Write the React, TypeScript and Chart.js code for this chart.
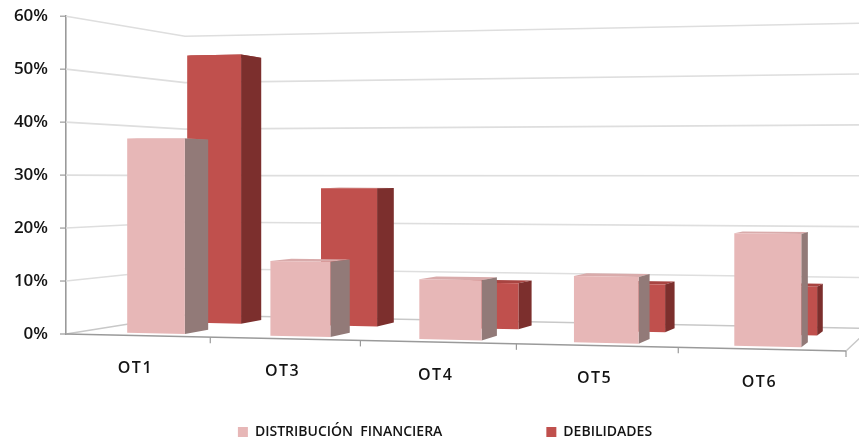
import React, { useEffect, useRef } from "react";
import { Chart, registerables } from "chart.js";

Chart.register(...registerables);

const categories = ["OT1", "OT3", "OT4", "OT5", "OT6"];
const distribucionFinanciera = [37, 14, 11, 12, 20];
const debilidades = [54.5, 27.5, 9, 9.2, 9.2];
const seriesNames = ["DISTRIBUCIÓN  FINANCIERA", "DEBILIDADES"];
const yMax = 60;
const yStep = 10;

const FONT = "'Open Sans', sans-serif";
const PINK = { front: "#E7B7B7", side: "#927A78", top: "#D9ABAB" };
const RED = { front: "#C0504D", side: "#7C2F2D", top: "#A84441" };
const GRID = "#DEDEDE";
const AXIS = "#9A9A9A";

// View of the 3D box: how the flat plot area maps on to the tilted scene.
const VIEW = {
  rightBottomDrop: 17,
  rightTopRise: 12,
  backLeft: { dx: 119, bottom: -19, top: 20 },
  backRight: { dx: 24, bottom: -22.5, top: 18.8 },
  warp: 0.094,
};
const ROWS = [
  { d0: 0.12, d1: 0.34, c: PINK },
  { d0: 0.65, d1: 0.84, c: RED },
];
const barShift = (u: number) => 0.008 - 0.006 * u;

const lerp = (a: number, b: number, t: number) => a + (b - a) * t;

function projector(chart: any) {
  const { left, right } = chart.chartArea;
  const y = chart.scales.y;
  const b = y.getPixelForValue(0);
  const t = y.getPixelForValue(yMax);
  return (u: number, d: number, v: number) => {
    const s = u - VIEW.warp * u * (1 - u);
    const xf = lerp(left, right, s);
    const xb = lerp(left + VIEW.backLeft.dx, right + VIEW.backRight.dx, s);
    const bf = b + VIEW.rightBottomDrop * s;
    const tf = t - VIEW.rightTopRise * s;
    const bb = lerp(b + VIEW.backLeft.bottom, b + VIEW.rightBottomDrop + VIEW.backRight.bottom, s);
    const tb = lerp(t + VIEW.backLeft.top, t - VIEW.rightTopRise + VIEW.backRight.top, s);
    const yb = lerp(bf, bb, d);
    const yt = lerp(tf, tb, d);
    return [lerp(xf, xb, d), lerp(yb, yt, v)] as [number, number];
  };
}

function poly(ctx: CanvasRenderingContext2D, pts: [number, number][], fill: string) {
  ctx.beginPath();
  pts.forEach((p, i) => (i ? ctx.lineTo(p[0], p[1]) : ctx.moveTo(p[0], p[1])));
  ctx.closePath();
  ctx.fillStyle = fill;
  ctx.fill();
}

function line(ctx: CanvasRenderingContext2D, pts: [number, number][], color: string, w: number) {
  ctx.beginPath();
  pts.forEach((p, i) => (i ? ctx.lineTo(p[0], p[1]) : ctx.moveTo(p[0], p[1])));
  ctx.strokeStyle = color;
  ctx.lineWidth = w;
  ctx.stroke();
}

const scene3d = {
  id: "scene3d",
  beforeInit(chart: any) {
    const legend = chart.legend;
    if (legend) {
      const fit = legend.fit;
      legend.fit = function () {
        fit.call(this);
        this.height = 34;
      };
    }
  },
  afterLayout(chart: any) {
    const legend = chart.legend;
    legend.left += 22;
    legend.right += 22;
    legend.top = 425 - legend.options.labels.padding;
    legend.bottom = 441;
  },
  beforeDatasetsDraw(chart: any) {
    const ctx = chart.ctx as CanvasRenderingContext2D;
    const { left, width } = chart.chartArea;
    const P = projector(chart);
    const y = chart.scales.y;
    const x = chart.scales.x;
    const b = y.getPixelForValue(0);
    const t = y.getPixelForValue(yMax);
    ctx.save();

    // y axis tick marks
    for (let v = 0; v <= yMax; v += yStep) {
      const py = y.getPixelForValue(v);
      line(ctx, [[left - 6, py], [left, py]], AXIS, 1.2);
    }

    // walls
    for (let v = yStep; v <= yMax; v += yStep) {
      const f = (b - y.getPixelForValue(v)) / (b - t);
      line(ctx, [P(0, 0, f), P(0, 1, f), P(1, 1, f)], GRID, 1.6);
    }
    // floor
    line(ctx, [P(0, 0, 0), P(0, 1, 0), P(1, 1, 0), P(1, 0, 0)], "#C8C8C8", 1.4);
    line(ctx, [P(0, 0, 0), P(1, 0, 0)], AXIS, 1.6);

    // x axis ticks and labels
    const slot = width / categories.length;
    categories.forEach((_, i) => {
      const u = (x.getPixelForValue(i) + slot / 2 - left) / width;
      const p = P(u, 0, 0);
      line(ctx, [p, [p[0], p[1] + 6]], AXIS, 1.2);
    });
    ctx.fillStyle = "#141414";
    ctx.font = `600 16px ${FONT}`;
    ctx.textAlign = "center";
    ctx.textBaseline = "middle";
    ctx.letterSpacing = "1.5px";
    categories.forEach((_, i) => {
      const u = (x.getPixelForValue(i) - left) / width;
      const p = P(u, 0, 0);
      ctx.fillText(x.getLabelForValue(i), p[0] - 2, p[1] + 33);
    });
    ctx.letterSpacing = "0px";

    // bars, back row first
    for (let ds = 1; ds >= 0; ds--) {
      const row = ROWS[ds];
      chart.getDatasetMeta(ds).data.forEach((el: any) => {
        const uc = (el.x - left) / width;
        const u0 = (el.x - el.width / 2 - left) / width + barShift(uc);
        const u1 = (el.x + el.width / 2 - left) / width + barShift(uc);
        const vt = (b - el.y) / (b - t);
        const { d0, d1, c } = row;
        poly(ctx, [P(u0, d0, vt), P(u1, d0, vt), P(u1, d1, vt), P(u0, d1, vt)], c.top);
        poly(ctx, [P(u1, d0, 0), P(u1, d1, 0), P(u1, d1, vt), P(u1, d0, vt)], c.side);
        poly(ctx, [P(u0, d0, 0), P(u1, d0, 0), P(u1, d0, vt), P(u0, d0, vt)], c.front);
      });
    }
    ctx.restore();
    return false;
  },
};

export default function App() {
  const ref = useRef<HTMLCanvasElement>(null);
  useEffect(() => {
    const chart = new Chart(ref.current!, {
      type: "bar",
      data: {
        labels: categories,
        datasets: [
          { label: seriesNames[0], data: distribucionFinanciera, backgroundColor: PINK.front, grouped: false, barPercentage: 0.405, categoryPercentage: 1 },
          { label: seriesNames[1], data: debilidades, backgroundColor: RED.front, grouped: false, barPercentage: 0.405, categoryPercentage: 1 },
        ],
      },
      plugins: [scene3d],
      options: {
        responsive: false,
        animation: false,
        events: [],
        layout: { padding: { top: 0, right: 13, left: 0, bottom: 73 } },
        scales: {
          x: { display: false },
          y: {
            min: 0,
            max: yMax,
            ticks: {
              stepSize: yStep,
              padding: 6,
              color: "#141414",
              font: { family: FONT, size: 17, weight: "600" },
              callback: (v: any) => `${v}%`,
            },
            grid: { drawOnChartArea: false, drawTicks: true, tickLength: 12, tickColor: "transparent" },
            border: { color: AXIS, width: 1.6 },
            afterFit: (s: any) => {
              s.width = 66;
            },
          },
        },
        plugins: {
          tooltip: { enabled: false },
          title: { display: false },
          legend: {
            position: "bottom",
            labels: {
              boxWidth: 10,
              boxHeight: 10,
              padding: 104,
              color: "#141414",
              font: { family: FONT, size: 14, weight: "600" },
            },
          },
        },
      } as any,
    });
    return () => chart.destroy();
  }, []);
  return (
    <div style={{ position: "fixed", left: 0, top: 0, width: 859, height: 441, background: "#fff" }}>
      <canvas ref={ref} width={859} height={441} style={{ display: "block" }} />
    </div>
  );
}
